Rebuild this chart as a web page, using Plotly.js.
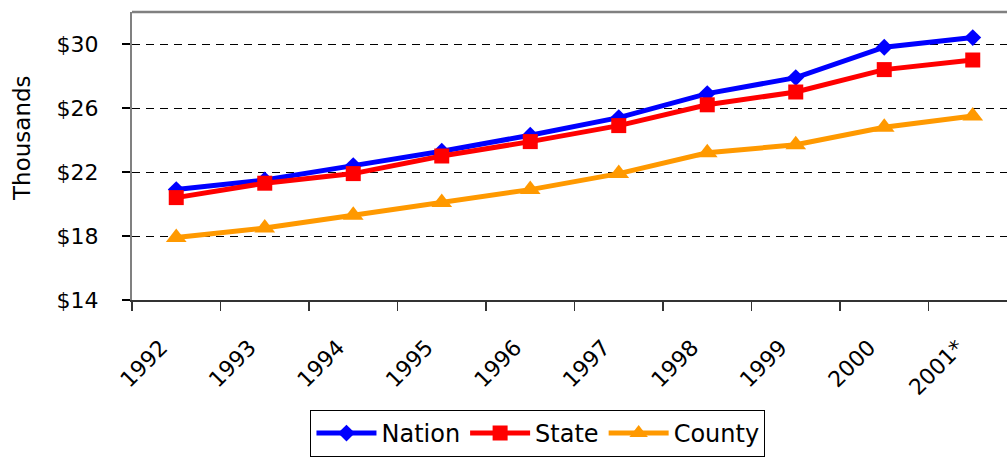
<!DOCTYPE html>
<html>
<head>
<meta charset="utf-8">
<script src="https://cdn.plot.ly/plotly-3.0.1.min.js"></script>
<style>
html,body{margin:0;padding:0;overflow:hidden;background:#fff;}
#chart{width:1030px;height:460px;}
</style>
</head>
<body>
<div id="chart"></div>
<script>
var years = ["1992","1993","1994","1995","1996","1997","1998","1999","2000","2001*"];
var nation = [20.9, 21.5, 22.4, 23.3, 24.3, 25.4, 26.9, 27.9, 29.8, 30.4];
var state  = [20.4, 21.3, 21.9, 23.0, 23.9, 24.9, 26.2, 27.0, 28.4, 29.0];
var county = [17.9, 18.5, 19.3, 20.1, 20.9, 21.9, 23.2, 23.7, 24.8, 25.5];
var yTickVals = [14, 18, 22, 26, 30];
var yTickText = ["$14", "$18", "$22", "$26", "$30"];

var FONT = "DejaVu Sans, Verdana, sans-serif";

var traces = [
  {x: years, y: nation, name: "Nation", type: "scatter", mode: "lines+markers",
   line: {color: "#0000FF", width: 5}, marker: {symbol: "diamond", size: 13, color: "#0000FF"}},
  {x: years, y: state, name: "State", type: "scatter", mode: "lines+markers",
   line: {color: "#FF0000", width: 5}, marker: {symbol: "square", size: 15, color: "#FF0000"}},
  {x: years, y: county, name: "County", type: "scatter", mode: "lines+markers",
   line: {color: "#FF9900", width: 5}, marker: {symbol: "triangle-up", size: 18, color: "#FF9900"}}
];

var layout = {
  width: 1030, height: 460,
  margin: {l: 132, r: 13, t: 12, b: 160, autoexpand: false},
  paper_bgcolor: "#ffffff", plot_bgcolor: "#ffffff",
  font: {family: FONT, color: "#000000", size: 22},
  showlegend: true,
  legend: {
    orientation: "h", xref: "container", yref: "container",
    x: 0.5223, xanchor: "center", y: 0.1087, yanchor: "top",
    bordercolor: "#000000", borderwidth: 1, font: {family: FONT, size: 24, color: "#000000"},
    itemwidth: 60, traceorder: "normal"
  },
  xaxis: {
    type: "category", range: [-0.5, 9.5], tickangle: -45,
    tickson: "boundaries", ticks: "outside", ticklen: 9, tickwidth: 1.5, tickcolor: "#333333",
    showline: true, linecolor: "#333333", linewidth: 2,
    showgrid: false, zeroline: false, ticklabelstandoff: 24, ticklabelshift: -15,
    tickfont: {family: FONT, size: 22, color: "#000000"}
  },
  yaxis: {
    range: [14, 32], tickvals: yTickVals, ticktext: yTickText,
    ticks: "outside", ticklen: 8, tickwidth: 1.5, tickcolor: "#000000",
    showline: true, linecolor: "#808080", linewidth: 2,
    showgrid: true, gridcolor: "#000000", gridwidth: 1, griddash: "8px,6px",
    zeroline: false, ticklabelstandoff: 19,
    tickfont: {family: FONT, size: 22, color: "#000000"}
  },
  shapes: [
    {type: "line", xref: "paper", yref: "paper", x0: 0, x1: 1, y0: 1, y1: 1,
     line: {color: "#808080", width: 2.5}}
  ],
  annotations: [
    {text: "Thousands", xref: "paper", yref: "paper", x: -0.1237, y: 0.561,
     xanchor: "center", yanchor: "middle", textangle: -90, showarrow: false,
     font: {family: FONT, size: 23, color: "#000000"}}
  ]
};

Plotly.newPlot("chart", traces, layout, {displayModeBar: false, staticPlot: true});
</script>
</body>
</html>
